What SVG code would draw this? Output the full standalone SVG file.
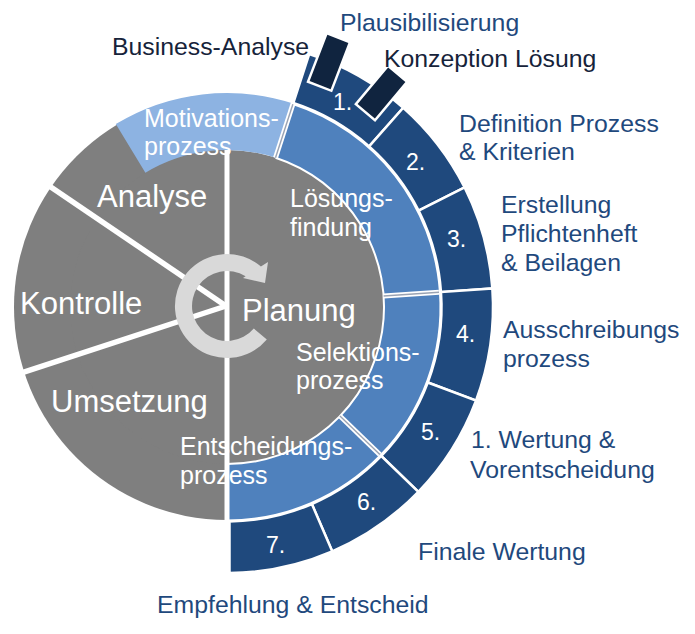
<svg xmlns="http://www.w3.org/2000/svg" width="695" height="634" viewBox="0 0 695 634">
<style>
.grey{fill:#7f7f7f}
.light{fill:#8db3e2}
.mid{fill:#4f81bd}
.dark{fill:#1f497d;stroke:#fff;stroke-width:2.5}
.marker{fill:#10243f;stroke:#fff;stroke-width:2.5}
.sep{stroke:#fff;stroke-width:5.5;fill:none}
.dbl{stroke:#fff;stroke-width:5;fill:none}
.dblin{stroke:#9aa3b3;stroke-width:1.4;fill:none}
text{font-family:"Liberation Sans",Arial,sans-serif}
.w30{fill:#fff;font-size:31px}
.w24{fill:#fff;font-size:25px}
.num{fill:#fff;font-size:23px}
.lbl{fill:#1f497d;font-size:24.8px}
.lblk{fill:#16233a;font-size:24.8px}
</style>
<g id="base">
  <path class="grey" d="M 227 94 A 213 213 0 0 0 227 520 Z"/>
  <circle class="grey" cx="227" cy="307" r="157"/>
</g>
<g id="separators">
  <line class="sep" x1="49.3" y1="185.9" x2="226" y2="306"/>
  <line class="sep" x1="22.3" y1="372.7" x2="226" y2="306"/>
</g>
<g id="motivationsprozess">
  <path class="light" d="M 293.1 103.5 A 214 214 0 0 0 115.8 124.1 L 145.4 172.8 A 157 157 0 0 1 275.5 157.7 Z"/>
</g>
<g id="loesungsfindung">
  <path class="mid" d="M 292.67 104.9 A 212.5 212.5 0 0 1 438.98 292.18 L 383.62 296.05 A 157 157 0 0 0 275.52 157.68 Z"/>
</g>
<g id="selektionsprozess">
  <path class="mid" d="M 438.98 292.18 A 212.5 212.5 0 0 1 379.86 454.62 L 339.94 416.06 A 157 157 0 0 0 383.62 296.05 Z"/>
</g>
<g id="entscheidungsprozess">
  <path class="mid" d="M 379.86 454.62 A 212.5 212.5 0 0 1 227 519.5 L 227 464 A 157 157 0 0 0 339.94 416.06 Z"/>
</g>
<g id="ring-lines">
  <path d="M 275.52 157.68 A 157 157 0 0 1 227 464" fill="none" stroke="#fff" stroke-width="2"/>
  <line class="dbl" x1="275.52" y1="157.68" x2="293.6" y2="102"/>
  <line class="dblin" x1="275.52" y1="157.68" x2="293.6" y2="102"/>
  <line class="dbl" x1="383.62" y1="296.05" x2="438.98" y2="292.18"/>
  <line class="dblin" x1="383.62" y1="296.05" x2="438.98" y2="292.18"/>
  <line class="dbl" x1="339.94" y1="416.06" x2="379.86" y2="454.62"/>
  <line class="dblin" x1="339.94" y1="416.06" x2="379.86" y2="454.62"/>
  <line x1="227" y1="150" x2="227" y2="521" stroke="#fff" stroke-width="5"/>
</g>
<g id="step1">
  <path class="dark" d="M 309.2 54.02 A 266 266 0 0 1 403.26 107.78 L 369.13 146.35 A 214.5 214.5 0 0 0 293.28 103 Z"/>
  <text class="num" x="333" y="110">1.</text>
</g>
<g id="step2">
  <path class="dark" d="M 403.26 107.78 A 266 266 0 0 1 464.64 187.48 L 418.63 210.62 A 214.5 214.5 0 0 0 369.13 146.35 Z"/>
  <text class="num" x="406" y="170">2.</text>
</g>
<g id="step3">
  <path class="dark" d="M 464.64 187.48 A 266 266 0 0 1 492.35 288.44 L 440.98 292.04 A 214.5 214.5 0 0 0 418.63 210.62 Z"/>
  <text class="num" x="447" y="247">3.</text>
</g>
<g id="step4">
  <path class="dark" d="M 492.35 288.44 A 266 266 0 0 1 475.99 400.59 L 427.78 382.47 A 214.5 214.5 0 0 0 440.98 292.04 Z"/>
  <text class="num" x="456" y="342">4.</text>
</g>
<g id="step5">
  <path class="dark" d="M 475.99 400.59 A 266 266 0 0 1 418.34 491.78 L 381.3 456 A 214.5 214.5 0 0 0 427.78 382.47 Z"/>
  <text class="num" x="421" y="440">5.</text>
</g>
<g id="step6">
  <path class="dark" d="M 418.34 491.78 A 266 266 0 0 1 332.22 551.31 L 311.85 504.01 A 214.5 214.5 0 0 0 381.3 456 Z"/>
  <text class="num" x="357" y="510">6.</text>
</g>
<g id="step7">
  <path class="dark" d="M 332.22 551.31 A 266 266 0 0 1 229.5 572.99 L 229.5 521.49 A 214.5 214.5 0 0 0 311.85 504.01 Z"/>
  <text class="num" x="266" y="553">7.</text>
</g>
<g id="marker-business-analyse">
  <rect class="marker" x="-12.5" y="-26" width="25" height="52" transform="translate(329 62) rotate(21)"/>
</g>
<g id="marker-konzeption">
  <rect class="marker" x="-12.5" y="-25" width="25" height="50" transform="translate(381.5 93) rotate(40)"/>
</g>
<g id="cycle-arrow">
  <path fill="#d9d9d9" d="M 266.8 339.4 A 52 52 0 1 1 260.9 266.6 L 268 262 L 265 283 L 243 278 L 245.6 276.3 A 35 35 0 1 0 253.8 328.5 Z"/>
</g>
<g id="phase-labels">
  <text class="w30" x="97" y="207">Analyse</text>
  <text class="w30" x="20" y="314">Kontrolle</text>
  <text class="w30" x="51" y="412">Umsetzung</text>
  <text class="w30" x="242" y="321">Planung</text>
  <text class="w24" x="144" y="127">Motivations-</text>
  <text class="w24" x="144" y="155">prozess</text>
  <text class="w24" x="290" y="207">Lösungs-</text>
  <text class="w24" x="290" y="236">findung</text>
  <text class="w24" x="296" y="361">Selektions-</text>
  <text class="w24" x="296" y="389">prozess</text>
  <text class="w24" x="180" y="455">Entscheidungs-</text>
  <text class="w24" x="180" y="484">prozess</text>
</g>
<g id="step-labels">
  <text class="lbl" x="340" y="31">Plausibilisierung</text>
  <text class="lblk" x="112" y="55">Business-Analyse</text>
  <text class="lblk" x="384" y="67">Konzeption Lösung</text>
  <text class="lbl" x="459" y="132">Definition Prozess</text>
  <text class="lbl" x="459" y="160">&amp; Kriterien</text>
  <text class="lbl" x="501" y="213">Erstellung</text>
  <text class="lbl" x="501" y="242">Pflichtenheft</text>
  <text class="lbl" x="501" y="271">&amp; Beilagen</text>
  <text class="lbl" x="503" y="338">Ausschreibungs</text>
  <text class="lbl" x="503" y="367">prozess</text>
  <text class="lbl" x="471" y="448">1. Wertung &amp;</text>
  <text class="lbl" x="470" y="478">Vorentscheidung</text>
  <text class="lbl" x="418" y="560">Finale Wertung</text>
  <text class="lbl" x="157" y="613">Empfehlung &amp; Entscheid</text>
</g>
</svg>
